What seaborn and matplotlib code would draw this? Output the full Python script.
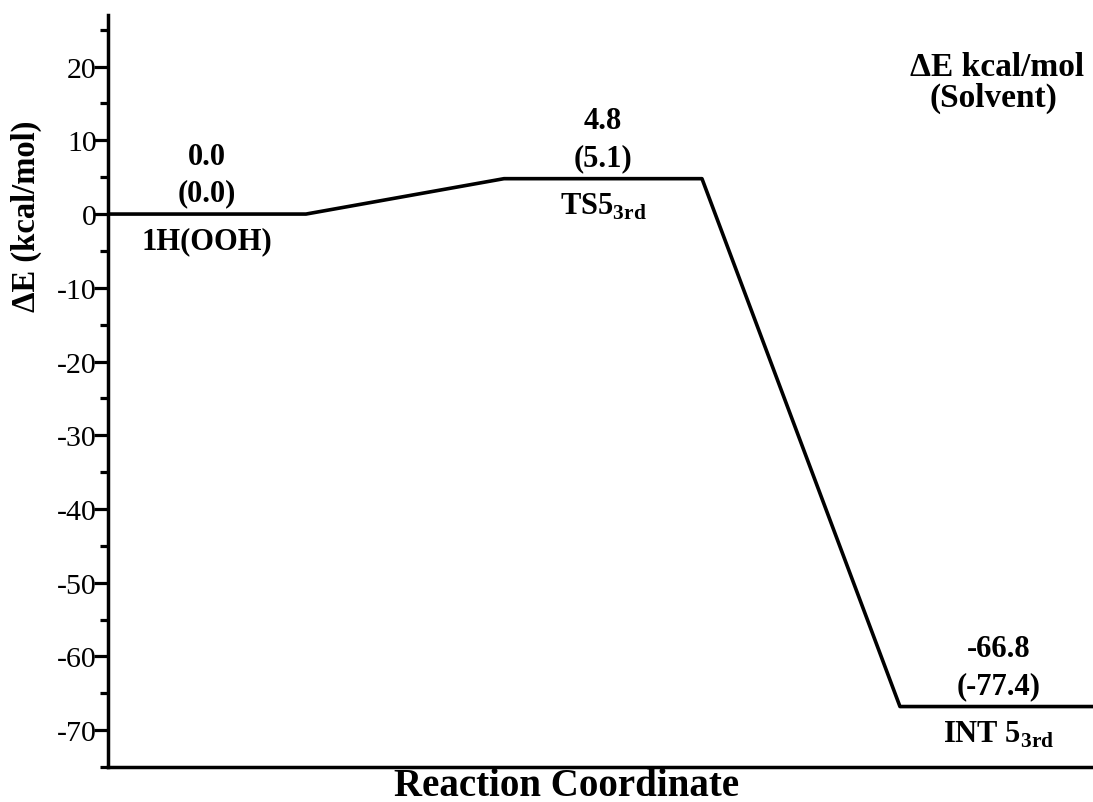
import numpy as np
import pandas as pd
import matplotlib
matplotlib.use("Agg")
import matplotlib.pyplot as plt
from matplotlib.ticker import MultipleLocator
import seaborn as sns

# Reaction steps and their relative energies (kcal/mol)
stages = ["1H(OOH)", r"TS5$_{\mathbf{3rd}}$", r"INT 5$_{\mathbf{3rd}}$"]
energy = [0.0, 4.8, -66.8]          # plotted level
energy_solvent = [0.0, 5.1, -77.4]  # value in parentheses

sns.set_style("ticks")
plt.rcParams["font.family"] = ["Liberation Serif", "DejaVu Serif"]
plt.rcParams["mathtext.fontset"] = "custom"
plt.rcParams["mathtext.rm"] = "Liberation Serif"
plt.rcParams["mathtext.bf"] = "Liberation Serif:bold"
plt.rcParams["axes.unicode_minus"] = False
plt.rcParams["text.color"] = "black"
plt.rcParams["axes.labelcolor"] = "black"

# Each level occupies one unit of reaction coordinate, separated by a one-unit connector
xs, ys = [], []
for i, e in enumerate(energy):
    xs += [2 * i, 2 * i + 1]
    ys += [e, e]
path = pd.DataFrame({"coord": xs, "energy": ys})

W, H = 1093, 803
fig = plt.figure(figsize=(W / 100, H / 100), dpi=100)
ax = fig.add_axes([108 / W, 35 / H, 985 / W, 752 / H])

sns.lineplot(data=path, x="coord", y="energy", sort=False, estimator=None,
             color="black", lw=2.6, ax=ax)

ax.set_xlim(0, 4.975)
ax.set_ylim(-75, 27)
ax.yaxis.set_major_locator(MultipleLocator(10))
ax.yaxis.set_minor_locator(MultipleLocator(5))
ax.set_xticks([])
ax.tick_params(axis="y", which="major", direction="out", length=10, width=2.3,
               labelsize=21.5, pad=-2, colors="black")
ax.tick_params(axis="y", which="minor", direction="out", length=6, width=2.3,
               colors="black")
sns.despine(ax=ax)
for side in ("left", "bottom"):
    ax.spines[side].set_linewidth(2.5)
    ax.spines[side].set_color("black")

ax.set_xlabel("Reaction Coordinate", fontsize=28, fontweight="bold")
ax.xaxis.set_label_coords(0.466, -0.024)
ax.xaxis.label.set_va("center")
ax.set_ylabel("ΔE (kcal/mol)", fontsize=23.5, fontweight="bold")
ax.yaxis.set_label_coords(-0.0832, 0.733)
ax.yaxis.label.set_va("center")
ax.yaxis.label.set_ha("center")

px = 0.72  # pixels to points
for i, (name, e, es) in enumerate(zip(stages, energy, energy_solvent)):
    xc = 2 * i + 0.5
    ax.annotate(f"{e:.1f}", (xc, e), xytext=(0, 58 * px), textcoords="offset points",
                ha="center", va="center", fontsize=22, fontweight="bold")
    ax.annotate(f"({es:.1f})", (xc, e), xytext=(0, 21 * px), textcoords="offset points",
                ha="center", va="center", fontsize=22, fontweight="bold")
    ax.annotate(name, (xc, e), xytext=(0, -27 * px), textcoords="offset points",
                ha="center", va="center", fontsize=22, fontweight="bold")

fig.text(997 / W, 1 - 67 / H, "ΔE kcal/mol", ha="center", va="center",
         fontsize=24, fontweight="bold")
fig.text(993 / W, 1 - 98 / H, "(Solvent)", ha="center", va="center",
         fontsize=24, fontweight="bold")

fig.savefig("out.png", dpi=100, facecolor="white")
